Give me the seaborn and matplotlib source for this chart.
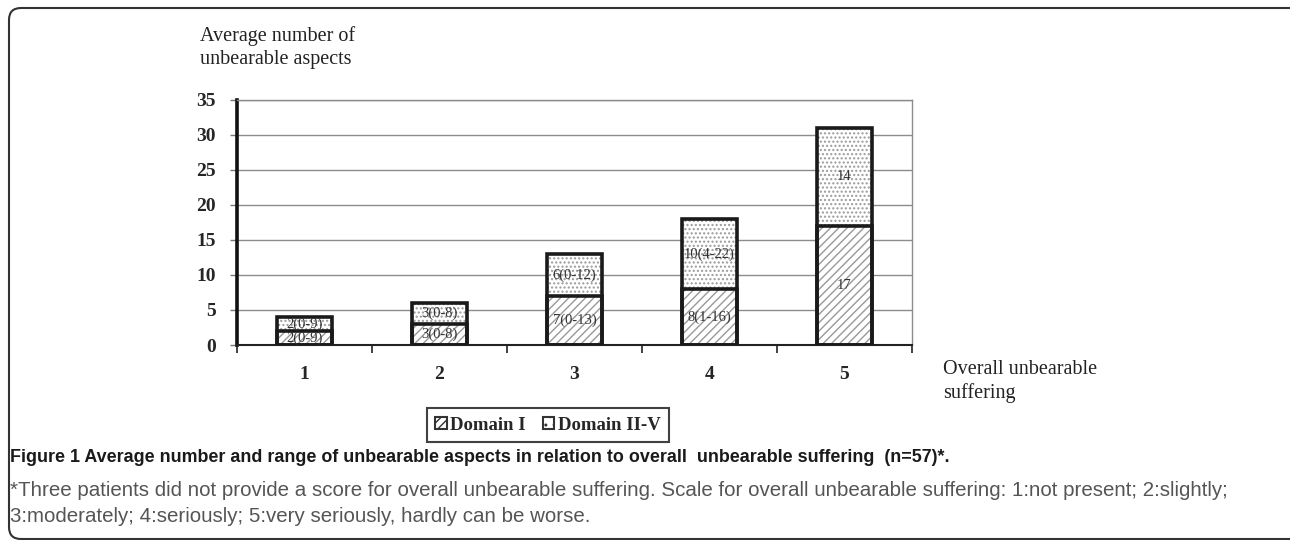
import matplotlib
matplotlib.use("Agg")
import matplotlib.pyplot as plt
import numpy as np
import pandas as pd
import seaborn as sns
from matplotlib.patches import FancyBboxPatch, Patch, Rectangle
from matplotlib.transforms import IdentityTransform

# data
scores = ["1", "2", "3", "4", "5"]
domain_1 = [2, 3, 7, 8, 17]
domain_2_5 = [2, 3, 6, 10, 14]
labels_1 = ["2(0-9)", "3(0-8)", "7(0-13)", "8(1-16)", "17"]
labels_2_5 = ["2(0-9)", "3(0-8)", "6(0-12)", "10(4-22)", "14"]
y_ticks = [0, 5, 10, 15, 20, 25, 30, 35]

df = pd.DataFrame({"score": scores, "d1": domain_1, "d25": domain_2_5})
df["total"] = df["d1"] + df["d25"]

sns.set_theme(style="white")
plt.rcParams["font.family"] = ["Liberation Serif", "DejaVu Serif"]
plt.rcParams["hatch.linewidth"] = 1.0

fig = plt.figure(figsize=(12.9, 5.4), dpi=100)
ax = fig.add_axes([237 / 1290, 1 - 345 / 540, 675 / 1290, 245 / 540])

# stacked bars: total (Domain II-V on top), then Domain I at bottom
sns.barplot(data=df, x="score", y="total", color="white", width=0.41, ax=ax,
            saturation=1, zorder=3)
n = len(df)
top_patches = list(ax.patches[:n])
sns.barplot(data=df, x="score", y="d1", color="white", width=0.41, ax=ax,
            saturation=1, zorder=4)
bottom_patches = list(ax.patches[n:2 * n])

for p in top_patches:
    p.set_hatch("....")
    p.set_edgecolor("#9a9a9a")
    p.set_linewidth(0)
for p in bottom_patches:
    p.set_hatch("////")
    p.set_edgecolor("#999999")
    p.set_linewidth(0)
for p in top_patches + bottom_patches:
    ax.add_patch(Rectangle(p.get_xy(), p.get_width(), p.get_height(),
                           fill=False, edgecolor="#1a1a1a", linewidth=2.6,
                           zorder=5))

# segment labels centred inside each stacked segment
for pt, pb, lt, lb in zip(top_patches, bottom_patches, labels_2_5, labels_1):
    xc = pb.get_x() + pb.get_width() / 2
    hb = pb.get_height()
    ht = pt.get_height()
    ax.text(xc, hb / 2, lb, ha="center", va="center", fontsize=10.5,
            color="#333333", zorder=6)
    ax.text(xc, (hb + ht) / 2, lt, ha="center", va="center", fontsize=10.5,
            color="#333333", zorder=6)

ax.set_ylim(0, 35)
ax.set_xlim(-0.5, n - 0.5)
ax.set_yticks(y_ticks)
ax.set_yticklabels([str(t) for t in y_ticks], fontweight="bold", fontsize=14)
ax.set_xticks(range(n))
ax.set_xticklabels(scores, fontweight="bold", fontsize=14)
ax.set_xticks(np.arange(-0.5, n, 1.0), minor=True)
ax.tick_params(axis="x", which="major", length=0, pad=15)
ax.tick_params(axis="x", which="minor", length=6, width=1.2, color="#222222",
               direction="out", bottom=True)
ax.tick_params(axis="y", length=5, width=1, color="#777777", direction="out",
               left=True, pad=10)
ax.set_xlabel("")
ax.set_ylabel("")

ax.yaxis.grid(True, color="#8c8c8c", linewidth=1.0, zorder=0)
ax.set_axisbelow(True)
ax.spines["left"].set_color("#111111")
ax.spines["left"].set_linewidth(2.6)
ax.spines["bottom"].set_color("#222222")
ax.spines["bottom"].set_linewidth(1.5)
ax.spines["top"].set_color("#8c8c8c")
ax.spines["top"].set_linewidth(1.0)
ax.spines["right"].set_color("#8c8c8c")
ax.spines["right"].set_linewidth(1.0)

fig.text(200 / 1290, 1 - 26 / 540, "Average number of\nunbearable aspects",
         fontsize=14.5, color="#222222", va="top", ha="left", linespacing=1.3)
fig.text(943 / 1290, 1 - 360 / 540, "Overall unbearable\nsuffering",
         fontsize=14.5, color="#222222", va="top", ha="left", linespacing=1.3)

handles = [Patch(facecolor="white", edgecolor="#333333", hatch="////",
                 linewidth=1.5, label="Domain I"),
           Patch(facecolor="white", edgecolor="#333333", hatch="..",
                 linewidth=1.5, label="Domain II-V")]
leg = fig.legend(handles=handles, loc="center",
                 bbox_to_anchor=(548 / 1290, 1 - 425 / 540), ncol=2,
                 frameon=True, fancybox=False, handlelength=0.6,
                 handleheight=0.6, handletextpad=0.2, columnspacing=0.9,
                 borderpad=0.45, prop={"weight": "bold", "size": 13.5})
leg.get_frame().set_edgecolor("#111111")
leg.get_frame().set_linewidth(1.5)

sans = ["Liberation Sans", "DejaVu Sans"]
fig.text(10 / 1290, 1 - 458 / 540,
         "Figure 1 Average number and range of unbearable aspects in relation "
         "to overall  unbearable suffering  (n=57)*.",
         fontsize=12.9, fontweight="bold", color="#1a1a1a", va="center",
         ha="left", family=sans)
fig.text(10 / 1290, 1 - 490 / 540,
         "*Three patients did not provide a score for overall unbearable "
         "suffering. Scale for overall unbearable suffering: 1:not present; "
         "2:slightly;",
         fontsize=14.8, color="#555555", va="center", ha="left", family=sans)
fig.text(10 / 1290, 1 - 516 / 540,
         "3:moderately; 4:seriously; 5:very seriously, hardly can be worse.",
         fontsize=14.8, color="#555555", va="center", ha="left", family=sans)

# rounded outer frame of the figure panel
frame = FancyBboxPatch((9, 1), 1300, 531, boxstyle="round,pad=0,rounding_size=12",
                       fill=False, edgecolor="#333333", linewidth=1.5,
                       transform=IdentityTransform())
fig.patches.append(frame)

fig.savefig("out.png", dpi=100)
